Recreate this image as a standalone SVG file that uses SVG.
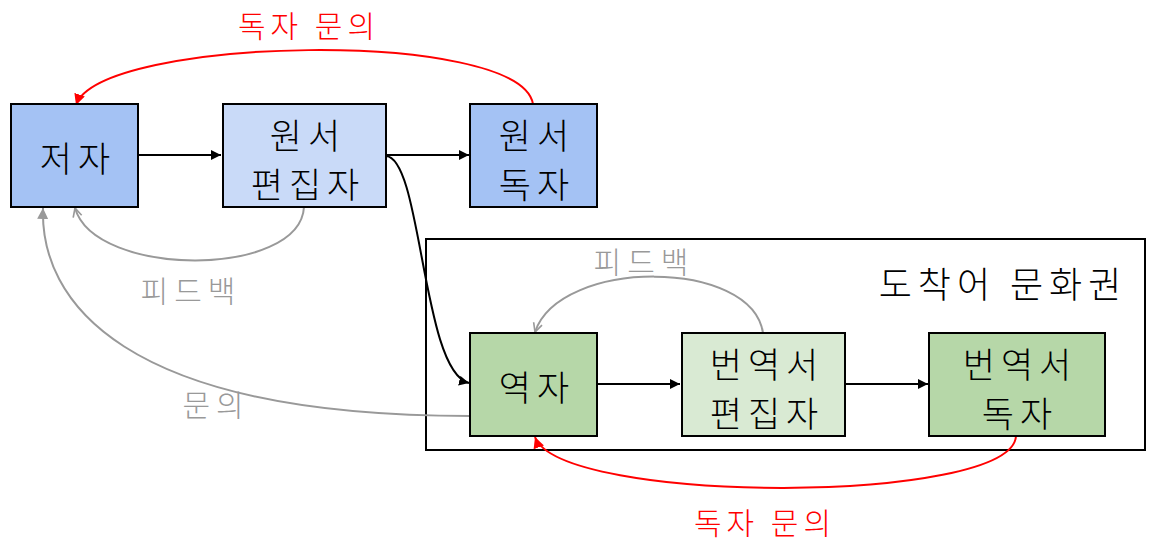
<svg xmlns="http://www.w3.org/2000/svg" width="1158" height="546" viewBox="0 0 1158 546">
<style>
text{font-family:"Noto Sans CJK KR","Noto Sans",sans-serif;text-anchor:middle;dominant-baseline:central;font-weight:300}
.box{stroke:#000;stroke-width:2}
.lbl{font-size:35px;fill:#000;letter-spacing:6px}
.red{font-size:30px;fill:#ff0000;letter-spacing:5px}
.gray{font-size:30px;fill:#999;letter-spacing:6px}
.k{fill:none;stroke:#000;stroke-width:2}
.r{fill:none;stroke:#ff0000;stroke-width:2}
.g{fill:none;stroke:#999;stroke-width:2}
</style>
<defs>
<marker id="ak" viewBox="0 0 10 10" refX="10" refY="5" markerWidth="10" markerHeight="10" markerUnits="userSpaceOnUse" orient="auto"><path d="M0,0L10,5L0,10z" fill="#000"/></marker>
<marker id="ar" viewBox="0 0 10 10" refX="10" refY="5" markerWidth="11" markerHeight="11" markerUnits="userSpaceOnUse" orient="auto"><path d="M0,0L10,5L0,10z" fill="#ff0000"/></marker>
<marker id="ag" viewBox="0 0 10 10" refX="10" refY="5" markerWidth="11" markerHeight="11" markerUnits="userSpaceOnUse" orient="auto"><path d="M0,0L10,5L0,10z" fill="#999"/></marker>
<marker id="ago" viewBox="0 0 10 10" refX="9" refY="5" markerWidth="11" markerHeight="11" markerUnits="userSpaceOnUse" orient="auto"><path d="M1,1L9,5L1,9" fill="none" stroke="#999" stroke-width="1.5"/></marker>
</defs>
<g id="region">
<rect x="426" y="239" width="719" height="211" fill="#fff" stroke="#000" stroke-width="2"/>
<text x="1003" y="282" style="font-size:36px;letter-spacing:6px">도착어 문화권</text>
</g>
<g id="connectors">
<path class="k" d="M138,155H221" marker-end="url(#ak)"/>
<path class="k" d="M386,155H469" marker-end="url(#ak)"/>
<path class="k" d="M386,156C422,158 422,372 469,383" marker-end="url(#ak)"/>
<path class="k" d="M597,384H680" marker-end="url(#ak)"/>
<path class="k" d="M845,384H928" marker-end="url(#ak)"/>
<path class="r" d="M533,104C520,28 100,36 76,105" marker-end="url(#ar)"/>
<path class="r" d="M1016,436C1012,505 560,505 535,437" marker-end="url(#ar)"/>
<path class="g" d="M304,207C300,278 95,278 75,208" marker-end="url(#ago)"/>
<path class="g" d="M763,333C752,258 560,258 535,332" marker-end="url(#ago)"/>
<path class="g" d="M470,416C120,416 40,300 43,208" marker-end="url(#ag)"/>
<text class="red" x="309" y="24">독자 문의</text>
<text class="red" x="765" y="521">독자 문의</text>
<text class="gray" x="191" y="289">피드백</text>
<text class="gray" x="216" y="403">문의</text>
<text class="gray" x="644" y="260">피드백</text>
</g>
<g id="n-author">
<rect class="box" x="11" y="104" width="127" height="103" fill="#a4c2f4"/>
<text class="lbl" x="78" y="156">저자</text>
</g>
<g id="n-src-editor">
<rect class="box" x="223" y="104" width="163" height="103" fill="#c9daf8"/>
<text class="lbl" x="308" y="133">원서</text>
<text class="lbl" x="308" y="182">편집자</text>
</g>
<g id="n-src-reader">
<rect class="box" x="470" y="104" width="127" height="103" fill="#a4c2f4"/>
<text class="lbl" x="537" y="133">원서</text>
<text class="lbl" x="537" y="182">독자</text>
</g>
<g id="n-translator">
<rect class="box" x="470" y="333" width="127" height="103" fill="#b6d7a8"/>
<text class="lbl" x="537" y="385">역자</text>
</g>
<g id="n-tr-editor">
<rect class="box" x="682" y="333" width="163" height="103" fill="#d9ead3"/>
<text class="lbl" x="767" y="362">번역서</text>
<text class="lbl" x="767" y="411">편집자</text>
</g>
<g id="n-tr-reader">
<rect class="box" x="929" y="333" width="176" height="103" fill="#b6d7a8"/>
<text class="lbl" x="1020" y="362">번역서</text>
<text class="lbl" x="1020" y="411">독자</text>
</g>
</svg>
